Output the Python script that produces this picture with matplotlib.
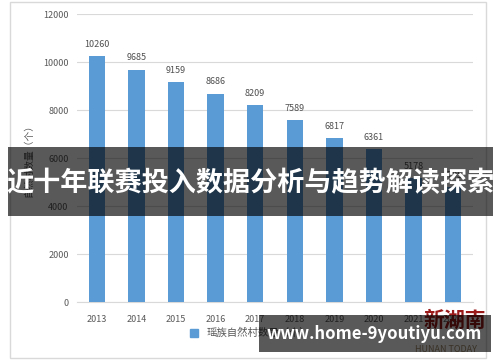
import matplotlib
matplotlib.use("Agg")
import matplotlib.pyplot as plt
from matplotlib.patches import Rectangle, Patch

plt.rcParams['font.family'] = ['Noto Sans CJK SC', 'DejaVu Sans']

years = ['2013', '2014', '2015', '2016', '2017', '2018', '2019', '2020', '2021', '2022']
counts = [10260, 9685, 9159, 8686, 8209, 7589, 6817, 6361, 5178, 4795]
yticks = [0, 2000, 4000, 6000, 8000, 10000, 12000]
series_name = '瑶族自然村数量（个）'
ylabel = '自然村数量（个）'
banner = '近十年联赛投入数据分析与趋势解读探索'
watermark = 'www.home-9youtiyu.com'

W, H = 500, 362
fig = plt.figure(figsize=(W / 100, H / 100), dpi=100)
fig.patch.set_facecolor('white')

def fx(px):
    return px / W

def fy(py):
    return 1 - py / H

# chart border
fig.patches.append(Rectangle((fx(10), fy(358)), fx(486) - fx(10), fy(2) - fy(358),
                             transform=fig.transFigure, fill=False,
                             edgecolor='#d9d9d9', lw=1.0, zorder=0))

ax = fig.add_axes([fx(77), fy(302), fx(473) - fx(77), fy(14) - fy(302)])
x = list(range(len(years)))
bars = ax.bar(x, counts, width=0.41, color='#5B9BD5', zorder=3)
ax.set_xlim(-0.5, len(years) - 0.5)
ax.set_ylim(0, 12000)
ax.set_yticks(yticks)
ax.set_xticks(x)
ax.set_xticklabels(years)
ax.grid(axis='y', color='#d9d9d9', lw=0.8, zorder=0)
for s in ['top', 'right', 'left']:
    ax.spines[s].set_visible(False)
ax.spines['bottom'].set_color('#d9d9d9')
ax.tick_params(axis='both', length=0, labelsize=6.5, colors='#595959')
ax.tick_params(axis='x', pad=9)
ax.tick_params(axis='y', pad=6)
for xi, v in zip(x, counts):
    ax.text(xi, v + 300, str(v), ha='center', va='bottom', fontsize=6.5, color='#505050')
ax.set_ylabel(ylabel, fontsize=7, color='#595959', labelpad=7)

# legend
ax.legend(handles=[Patch(color='#5B9BD5', label=series_name)], loc='center',
          bbox_to_anchor=((fx(250) - fx(77)) / (fx(473) - fx(77)), (fy(333) - fy(302)) / (fy(14) - fy(302))),
          frameon=False, fontsize=7.5, handlelength=0.8, handleheight=0.8, labelcolor='#595959')

# logo behind watermark band
fig.text(fx(455), fy(320), '新湖南', ha='center', va='center', fontsize=15,
         color='#9b1b1b', fontweight='bold', style='italic', zorder=1)
fig.text(fx(446), fy(350), 'HUNAN TODAY', ha='center', va='center', fontsize=6.5,
         color='#a08a6a', zorder=1)

# banner
fig.patches.append(Rectangle((fx(8), fy(216)), fx(493) - fx(8), fy(147) - fy(216),
                             transform=fig.transFigure, facecolor='black', alpha=0.65,
                             edgecolor='none', zorder=5))
fig.text(fx(250), fy(183), banner, ha='center', va='center', fontsize=19.5,
         color='white', fontweight='bold', zorder=6)

# watermark band
fig.patches.append(Rectangle((fx(259), fy(352)), fx(491) - fx(259), fy(315) - fy(352),
                             transform=fig.transFigure, facecolor='black', alpha=0.65,
                             edgecolor='none', zorder=5))
fig.text(fx(374), fy(334), watermark, ha='center', va='center', fontsize=12,
         color='white', fontweight='bold', zorder=6)

fig.savefig('out.png', dpi=100)
